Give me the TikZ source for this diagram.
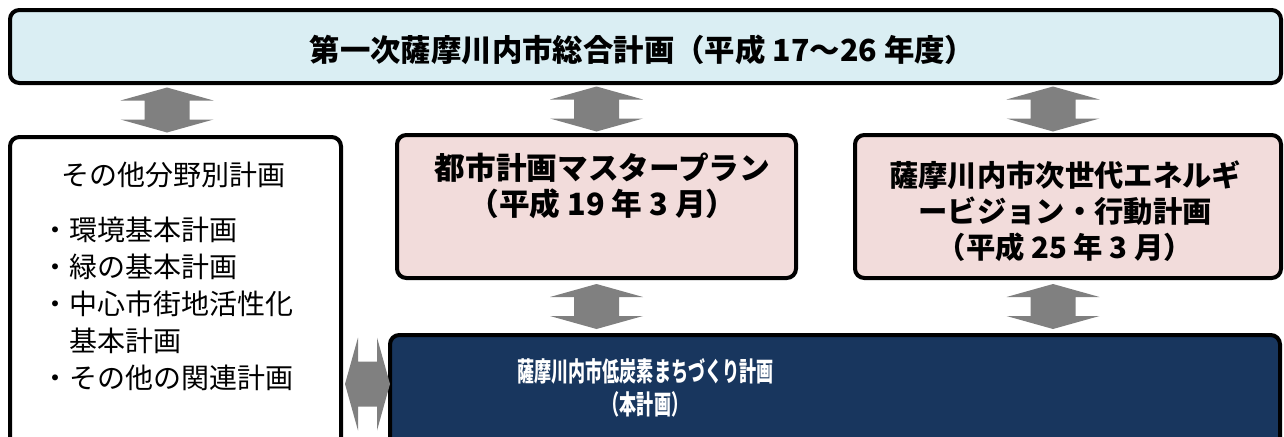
\documentclass[tikz,border=0pt]{standalone}
\usepackage{fontspec}
\setmainfont{Noto Sans CJK JP}
\newfontfamily\jpnarrow[FakeStretch=0.64]{Noto Sans CJK JP}
\usetikzlibrary{positioning,calc}

\definecolor{planblue}{RGB}{218,238,243}
\definecolor{planpink}{RGB}{242,220,219}
\definecolor{plannavy}{RGB}{24,54,94}
\definecolor{linkgray}{RGB}{128,128,128}

\tikzset{
  planbox/.style={draw=black, line width=3pt, rounded corners=7pt, inner sep=0pt},
  boxtext/.style={align=center, inner sep=0pt, font=\bfseries\fontsize{22}{27}\selectfont},
  listtext/.style={align=left, inner sep=0pt, font=\fontsize{21}{27.75}\selectfont},
  linkarrow/.pic={
    \fill[linkgray] (0,-22.5) -- (46.5,-9.5) -- (22.5,-9.5) -- (22.5,9.5) -- (46.5,9.5) -- (0,22.5)
      -- (-46.5,9.5) -- (-22.5,9.5) -- (-22.5,-9.5) -- (-46.5,-9.5) -- cycle;
  }
}

\begin{document}
\begin{tikzpicture}[x=0.75pt, y=-0.75pt]
        \def\pxu{0.75pt}
        \useasboundingbox (0,0) rectangle (1284,436);
        \clip (0,0) rectangle (1284,436);

        % boxes
        \node[planbox, fill=planblue, minimum width=1271*\pxu, minimum height=73*\pxu] (title) at (645.5,46.5) {};
        \node[planbox, fill=white, minimum width=331*\pxu, minimum height=333*\pxu] (others) at (175.5,303.5) {};
        \node[planbox, fill=planpink, minimum width=399*\pxu, minimum height=143*\pxu] (master) at (596.5,206.5) {};
        \node[planbox, fill=planpink, minimum width=426*\pxu, minimum height=143*\pxu] (vision) at (1068,206.5) {};
        \node[planbox, fill=plannavy, minimum width=890*\pxu, minimum height=135*\pxu] (lowcarbon) at (835,402.5) {};

        % texts
        \node[boxtext, font=\bfseries\fontsize{22.8}{27}\selectfont] (titletext) at ($(title.center)+(-3,3)$) {第一次薩摩川内市総合計画（平成 17～26 年度）};
        \node[listtext] (otherstitle) at ($(others.north)+(-2,40)$) {その他分野別計画};
        \node[listtext, anchor=north west] (otherslist) at (41,217) {・環境基本計画\\・緑の基本計画\\・中心市街地活性化\\\hphantom{・}基本計画\\・その他の関連計画};
        \node[boxtext, font=\bfseries\fontsize{23}{27}\selectfont] (mastertext) at ($(master.north)+(6,53)$) {都市計画マスタープラン\\（平成 19 年 3 月）};
        \node[boxtext] (visiontext) at ($(vision.north)+(-3,78)$) {薩摩川内市次世代エネルギ\\ービジョン・行動計画\\（平成 25 年 3 月）};
        \node[boxtext, text=white, font=\jpnarrow\bfseries\fontsize{20}{24.5}\selectfont] (lowcarbontext) at ($(lowcarbon.north -| title.center)+(0,55)$) {薩摩川内市低炭素まちづくり計画\\（本計画）};

        % links
        \coordinate (gap) at ($(others.east)!.5!(lowcarbon.west)$);
        \pic at ($(title.south -| others.north)!.5!(others.north)+(-8.5,0)$) {linkarrow};
        \pic at ($(title.south -| master.north)!.5!(master.north)$) {linkarrow};
        \pic at ($(title.south -| vision.north)!.5!(vision.north)+(-15,0)$) {linkarrow};
        \pic at ($(master.south)!.5!(lowcarbon.north -| master.south)$) {linkarrow};
        \pic at ($(vision.south)!.5!(lowcarbon.north -| vision.south)+(-15,0)$) {linkarrow};
        \pic[rotate=90] at ($(gap |- 0,384)+(2,0)$) {linkarrow};

\end{tikzpicture}
\end{document}
